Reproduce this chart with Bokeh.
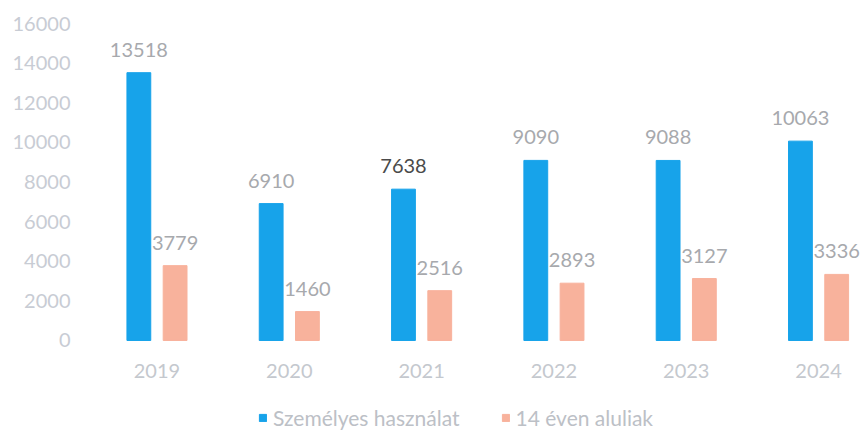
from bokeh.plotting import figure
from bokeh.models import ColumnDataSource, Range1d, FixedTicker, LabelSet, Legend, LegendItem
from bokeh.core.properties import value
from bokeh.embed import file_html
from bokeh.resources import INLINE

years = ["2019", "2020", "2021", "2022", "2023", "2024"]
szemelyes = [13518, 6910, 7638, 9090, 9088, 10063]
aluliak = [3779, 1460, 2516, 2893, 3127, 3336]
y_ticks = [0, 2000, 4000, 6000, 8000, 10000, 12000, 14000, 16000]
series_names = ["Személyes használat", "14 éven aluliak"]

BLUE = "#17a3ea"
SALMON = "#f8b29c"
FONT = "Lato"

idx = list(range(len(years)))
offset = 0.137
bar_w = 0.18

src_a = ColumnDataSource(dict(
    x=[i - offset for i in idx], y=szemelyes, lab=[str(v) for v in szemelyes],
    col=["#4a4a4a" if v == 7638 else "#a7a9ad" for v in szemelyes]))
src_b = ColumnDataSource(dict(
    x=[i + offset for i in idx], y=aluliak, lab=[str(v) for v in aluliak],
    col=["#a7a9ad"] * len(aluliak)))
src_years = ColumnDataSource(dict(x=idx, y=[0] * len(idx), lab=years))

p = figure(width=860, height=432, output_backend="svg", toolbar_location=None,
           x_range=Range1d(-0.578, 5.317), y_range=Range1d(-4644, 16505),
           min_border_left=80, min_border_right=0, min_border_top=13, min_border_bottom=0)
p.outline_line_color = None
p.background_fill_color = "white"
p.border_fill_color = "white"
p.grid.visible = False
p.xaxis.visible = False

r1 = p.vbar(x="x", top="y", width=bar_w, source=src_a, color=BLUE)
r2 = p.vbar(x="x", top="y", width=bar_w, source=src_b, color=SALMON)

for src in (src_a, src_b):
    p.add_layout(LabelSet(x="x", y="y", text="lab", source=src, y_offset=16,
                          text_align="center", text_baseline="alphabetic",
                          text_font=value(FONT), text_font_size=value("20px"),
                          text_color="col"))

p.add_layout(LabelSet(x="x", y="y", text="lab", source=src_years, y_offset=-24,
                      text_align="center", text_baseline="top",
                      text_font=value(FONT), text_font_size=value("20px"),
                      text_color=value("#c4c8ce")))

p.yaxis.ticker = FixedTicker(ticks=y_ticks)
p.yaxis.axis_line_color = None
p.yaxis.major_tick_line_color = None
p.yaxis.minor_tick_line_color = None
p.yaxis.major_tick_out = 0
p.yaxis.major_tick_in = 0
p.yaxis.major_label_standoff = 10
p.yaxis.major_label_text_font = FONT
p.yaxis.major_label_text_font_size = "20px"
p.yaxis.major_label_text_color = "#c8ccd4"

legend = Legend(items=[LegendItem(label=series_names[0], renderers=[r1]),
                       LegendItem(label=series_names[1], renderers=[r2])],
                location=(178, 2), orientation="horizontal",
                label_text_font=FONT, label_text_font_size="21px",
                label_text_color="#bcc0c6", glyph_width=9, glyph_height=9,
                label_standoff=6, spacing=41, padding=0, margin=0,
                border_line_color=None, background_fill_alpha=0)
p.add_layout(legend, "center")

open("out.html", "w").write(file_html(p, INLINE))
